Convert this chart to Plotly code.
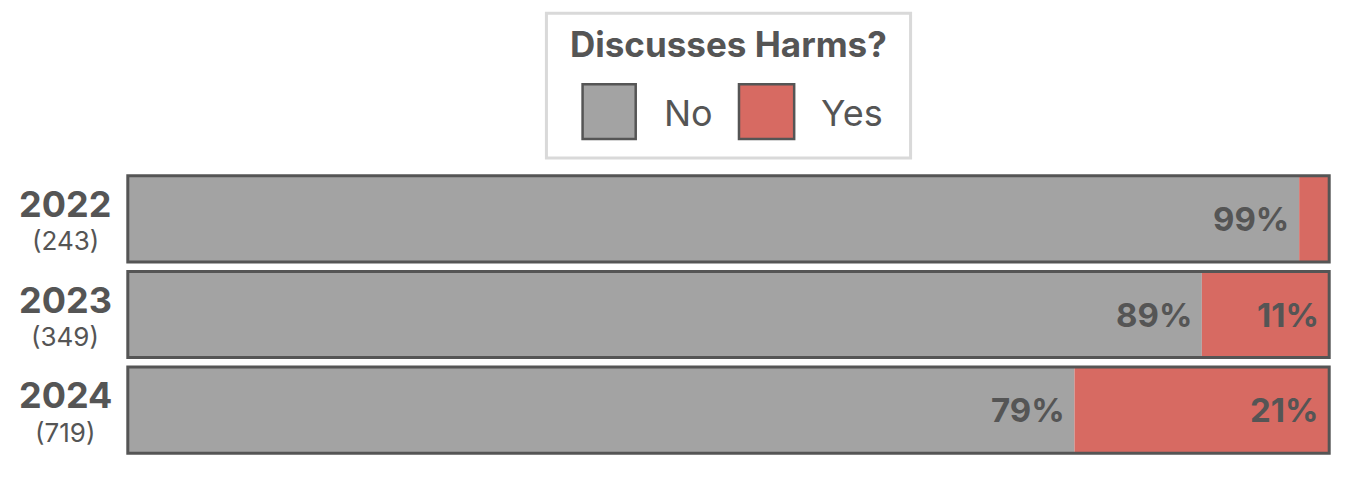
import plotly.graph_objects as go

# data
years = ["2022", "2023", "2024"]
counts = [243, 349, 719]
share_no = [97.5, 89.4, 78.8]
share_yes = [2.5, 10.6, 21.2]
label_no = ["99%", "89%", "79%"]
label_yes = ["", "11%", "21%"]
legend_title = "Discusses Harms?"
names = ["No", "Yes"]

GRAY = "#a3a3a3"
RED = "#d76a62"
INK = "#555555"
FONT = "Inter, Roboto, sans-serif"

fig = go.Figure()

# stacked by hand: Yes starts where No ends
fig.add_trace(go.Bar(y=years, x=share_no, orientation="h", name=names[0],
                     marker=dict(color=GRAY, line=dict(width=0)), showlegend=False))
fig.add_trace(go.Bar(y=years, x=share_yes, base=share_no, orientation="h", name=names[1],
                     marker=dict(color=RED, line=dict(width=0)), showlegend=False))
# one outline around the whole bar
totals = [a + b for a, b in zip(share_no, share_yes)]
fig.add_trace(go.Bar(y=years, x=totals, orientation="h", hoverinfo="skip",
                     marker=dict(color="rgba(0,0,0,0)", line=dict(width=3, color=INK)),
                     showlegend=False))

# percentage labels at the right end of each segment
# (annotation y given as category index, "2022" would be read as index 2022)
for i, yr in enumerate(years):
    if label_no[i]:
        fig.add_annotation(x=share_no[i], y=i, xref="x", yref="y", text="<b>%s</b>" % label_no[i],
                           showarrow=False, xanchor="right", yanchor="middle", xshift=-8,
                           font=dict(size=33, color=INK, family=FONT))
    if label_yes[i]:
        fig.add_annotation(x=totals[i], y=i, xref="x", yref="y", text="<b>%s</b>" % label_yes[i],
                           showarrow=False, xanchor="right", yanchor="middle", xshift=-8,
                           font=dict(size=33, color=INK, family=FONT))
    # year + count on the left, centered on each other
    fig.add_annotation(x=0, y=i, xref="paper", yref="y", showarrow=False, text="<b>%s</b>" % yr,
                       xanchor="center", yanchor="middle", xshift=-61, yshift=15,
                       font=dict(size=36, color=INK, family=FONT))
    fig.add_annotation(x=0, y=i, xref="paper", yref="y", showarrow=False, text="(%d)" % counts[i],
                       xanchor="center", yanchor="middle", xshift=-61, yshift=-22,
                       font=dict(size=26, color=INK, family=FONT))

# hand made legend (plotly legend swatches are too small)
fig.add_shape(type="rect", xref="paper", yref="paper", x0=0.3489, x1=0.6511, y0=1.0452, y1=1.5496,
              line=dict(color="#d9d9d9", width=3), fillcolor="white", layer="above")
fig.add_annotation(xref="paper", yref="paper", x=0.4996, y=1.4417, text="<b>%s</b>" % legend_title,
                   showarrow=False, xanchor="center", yanchor="middle",
                   font=dict(size=35, color=INK, family=FONT))
for col, nm, x0, x1, xt in [(GRAY, names[0], 0.3789, 0.4230, 0.4446),
                            (RED, names[1], 0.5087, 0.5545, 0.5754)]:
    fig.add_shape(type="rect", xref="paper", yref="paper", x0=x0, x1=x1, y0=1.1113, y1=1.3026,
                  fillcolor=col, line=dict(color=INK, width=2.5), layer="above")
    fig.add_annotation(xref="paper", yref="paper", x=xt, y=1.2026, text=nm, xanchor="left",
                       yanchor="middle", showarrow=False,
                       font=dict(size=36, color=INK, family=FONT))

fig.update_layout(
    width=1351, height=472,
    margin=dict(l=118, r=28, t=163, b=22),
    barmode="overlay", bargap=0.1,
    plot_bgcolor="white", paper_bgcolor="white",
    font=dict(family=FONT, color=INK),
)
fig.update_xaxes(range=[-0.15, 100.15], visible=False)
fig.update_yaxes(type="category", range=[2.5, -0.5], autorange=False,
                 showticklabels=False, showgrid=False, zeroline=False, showline=False)

fig.write_html("out.html")
